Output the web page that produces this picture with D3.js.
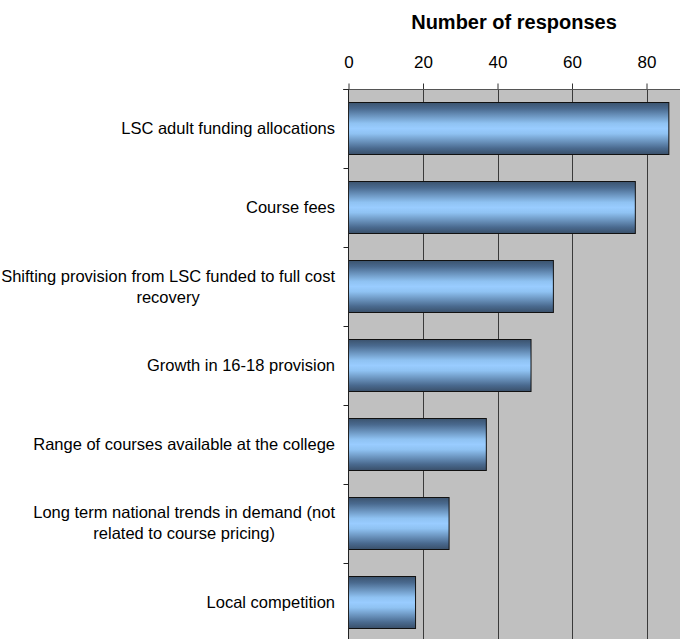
<!DOCTYPE html>
<html>
<head>
<meta charset="utf-8">
<script src="https://cdn.jsdelivr.net/npm/d3@7"></script>
<style>
  body { margin: 0; background: #fff; }
  svg { display: block; font-family: "Liberation Sans", Arial, sans-serif; }
</style>
</head>
<body>
<div id="chart"></div>
<script>
const categories = [
  'LSC adult funding allocations',
  'Course fees',
  'Shifting provision from LSC funded to full cost recovery',
  'Growth in 16-18 provision',
  'Range of courses available at the college',
  'Long term national trends in demand (not related to course pricing)',
  'Local competition'
];
const responses = [86, 77, 55, 49, 37, 27, 18];
const tickValues = [0, 20, 40, 60, 80];

const w = 680;
const h = 639;
const plotLeft = 348.5;
const plotTop = 89;

const datas = categories.map((c, i) => ({ name: c, value: responses[i] }));

const svg = d3.select('#chart').append('svg')
  .attr('width', w)
  .attr('height', h);

const xScale = d3.scaleLinear()
  .domain([0, 80])
  .range([plotLeft, 646.5]);

const yScale = d3.scaleBand()
  .domain(categories)
  .range([plotTop, 641.5])
  .paddingInner(0.34)
  .paddingOuter(0.17);

// bar shading
const grad = svg.append('defs').append('linearGradient')
  .attr('id', 'barGrad')
  .attr('x1', 0).attr('y1', 0).attr('x2', 0).attr('y2', 1);
[[0, '#3b536e'], [0.12, '#4a6a8f'], [0.4, '#8fc2f2'], [0.5, '#99ccff'], [0.6, '#8fc2f2'], [0.88, '#4a6a8f'], [1, '#394f69']]
  .forEach(s => grad.append('stop').attr('offset', s[0]).attr('stop-color', s[1]));

// plot area
svg.append('rect')
  .attr('x', plotLeft)
  .attr('y', plotTop)
  .attr('width', w - plotLeft)
  .attr('height', h - plotTop)
  .attr('fill', '#c0c0c0');

// gridlines
svg.append('g')
  .selectAll('line')
  .data(tickValues.slice(1))
  .enter()
  .append('line')
  .attr('x1', d => Math.round(xScale(d)) + 0.5)
  .attr('x2', d => Math.round(xScale(d)) + 0.5)
  .attr('y1', plotTop)
  .attr('y2', h)
  .attr('stroke', '#3a3a3a');

// bars
svg.append('g')
  .selectAll('rect')
  .data(datas)
  .enter()
  .append('rect')
  .attr('x', xScale(0))
  .attr('y', d => Math.round(yScale(d.name)) + 0.5)
  .attr('width', d => xScale(d.value) - xScale(0))
  .attr('height', Math.round(yScale.bandwidth()))
  .attr('fill', 'url(#barGrad)')
  .attr('stroke', '#111')
  .attr('stroke-width', 1);

// top axis
const xAxis = d3.axisTop(xScale)
  .tickValues(tickValues)
  .tickSize(6)
  .tickSizeOuter(0);

const gx = svg.append('g')
  .attr('transform', 'translate(0, ' + (plotTop + 0.5) + ')')
  .call(xAxis);
gx.select('.domain').remove();
gx.append('line')
  .attr('x1', 343).attr('x2', w)
  .attr('y1', 0).attr('y2', 0)
  .attr('stroke', '#555');
gx.selectAll('.tick line').attr('stroke', '#333');
gx.selectAll('.tick text')
  .attr('y', -22)
  .attr('fill', '#000')
  .style('font-size', '17px');

// left axis line and category ticks
svg.append('line')
  .attr('x1', plotLeft).attr('x2', plotLeft)
  .attr('y1', plotTop).attr('y2', h)
  .attr('stroke', '#222');

svg.append('g')
  .selectAll('line')
  .data(d3.range(categories.length))
  .enter()
  .append('line')
  .attr('x1', plotLeft - 5)
  .attr('x2', plotLeft)
  .attr('y1', d => Math.round(plotTop + d * yScale.step()) + 0.5)
  .attr('y2', d => Math.round(plotTop + d * yScale.step()) + 0.5)
  .attr('stroke', '#222');

// category labels, wrapped and centred like the original
const labelRight = 335;
const maxW = 338;
const lineH = 21;

const labels = svg.append('g')
  .style('font-size', '16.5px')
  .attr('fill', '#000');

datas.forEach(d => {
  const g = labels.append('g');
  const probe = g.append('text');
  const words = d.name.split(' ');
  const lines = [];
  let line = [];
  words.forEach(wd => {
    line.push(wd);
    probe.text(line.join(' '));
    if (probe.node().getComputedTextLength() > maxW && line.length > 1) {
      line.pop();
      lines.push(line.join(' '));
      line = [wd];
    }
  });
  lines.push(line.join(' '));
  const widths = lines.map(l => { probe.text(l); return probe.node().getComputedTextLength(); });
  probe.remove();
  const cx = labelRight - d3.max(widths) / 2;
  const cy = yScale(d.name) + yScale.bandwidth() / 2;
  const y0 = cy - (lines.length - 1) * lineH / 2;
  g.selectAll('text')
    .data(lines)
    .enter()
    .append('text')
    .attr('x', cx)
    .attr('y', (l, i) => y0 + i * lineH)
    .attr('dy', '0.35em')
    .attr('text-anchor', 'middle')
    .text(l => l);
});

// title
svg.append('text')
  .attr('x', 514)
  .attr('y', 29)
  .attr('text-anchor', 'middle')
  .style('font-size', '20px')
  .style('font-weight', 'bold')
  .text('Number of responses');
</script>
</body>
</html>
